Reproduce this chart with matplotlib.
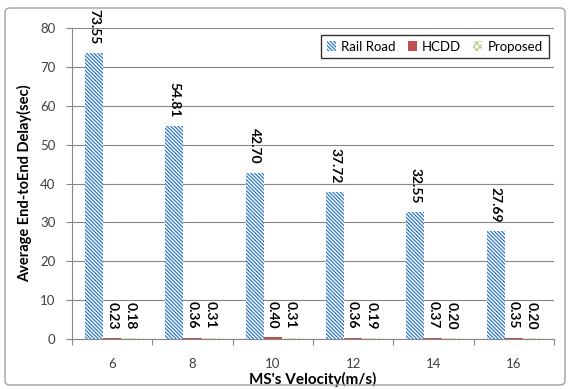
import matplotlib
matplotlib.use("Agg")
import matplotlib.pyplot as plt
import numpy as np
from matplotlib.patches import FancyBboxPatch

plt.rcParams['font.family'] = ['Lato', 'DejaVu Sans']
plt.rcParams['hatch.linewidth'] = 0.9

categories = ['6', '8', '10', '12', '14', '16']
rail_road = [73.55, 54.81, 42.70, 37.72, 32.55, 27.69]
hcdd = [0.23, 0.36, 0.40, 0.36, 0.37, 0.35]
proposed = [0.18, 0.31, 0.31, 0.19, 0.20, 0.20]
series_names = ['Rail Road', 'HCDD', 'Proposed']

fig = plt.figure(figsize=(5.69, 3.89), dpi=100)
ax = fig.add_axes([0.1265, 0.1285, 0.847, 0.7995])

x = np.arange(len(categories))
w = 0.225
specs = [
    (rail_road, 'white', '#2F78C4', '\\' * 9),
    (hcdd, '#C0504D', '#C0504D', None),
    (proposed, 'white', '#B5D07A', 'xxxxx'),
]
handles = []
for i, (vals, fc, ec, hatch) in enumerate(specs):
    pos = x + (i - 1) * w
    bars = ax.bar(pos, vals, width=w, facecolor=fc, edgecolor=ec, hatch=hatch,
                  linewidth=0, label=series_names[i], zorder=3)
    handles.append(bars)
    for p, v in zip(pos, vals):
        ax.annotate(f'{v:.2f}', (p, v), xytext=(0, 6.5), textcoords='offset points',
                    rotation=-90, ha='center', va='bottom', fontsize=10,
                    fontweight='bold', color='black', annotation_clip=False)

ax.set_xlim(-0.5, len(categories) - 0.5)
ax.set_ylim(0, 80)
ax.set_yticks(np.arange(0, 81, 10))
ax.set_xticks(x)
ax.set_xticklabels(categories)
ax.set_xticks(np.arange(-0.5, len(categories), 1), minor=True)
ax.tick_params(axis='x', which='major', length=0, pad=14, labelsize=9.5, labelcolor='#404040')
ax.tick_params(axis='x', which='minor', length=4, color='#868686', width=0.8)
ax.tick_params(axis='y', length=4, color='#868686', width=0.8, labelsize=9.5, labelcolor='#404040', pad=8)

ax.yaxis.grid(True, color='#868686', linewidth=0.8, zorder=0)
ax.set_axisbelow(True)
for s in ['top', 'right']:
    ax.spines[s].set_visible(False)
for s in ['left', 'bottom']:
    ax.spines[s].set_color('#868686')
    ax.spines[s].set_linewidth(0.8)

ax.set_ylabel('Average End-toEnd Delay(sec)', fontsize=10.5, fontweight='bold', labelpad=6)
ax.set_xlabel("MS's Velocity(m/s)", fontsize=11, fontweight='bold', labelpad=1)

leg = ax.legend(handles=handles, labels=series_names, loc='upper right', ncol=3,
                bbox_to_anchor=(1.003, 1.0), frameon=True, fancybox=False,
                fontsize=9.5, handlelength=0.7, handleheight=0.7, handletextpad=0.4,
                columnspacing=0.9, borderpad=0.45)
leg.get_frame().set_edgecolor('black')
leg.get_frame().set_linewidth(1.0)

border = FancyBboxPatch((5 / 569, 4 / 389), 560 / 569, 377 / 389,
                        boxstyle='round,pad=0,rounding_size=0.01',
                        transform=fig.transFigure, facecolor='none', edgecolor='#A0A0A0',
                        linewidth=1.0)
fig.patches.append(border)

fig.savefig('out.png', dpi=100)
